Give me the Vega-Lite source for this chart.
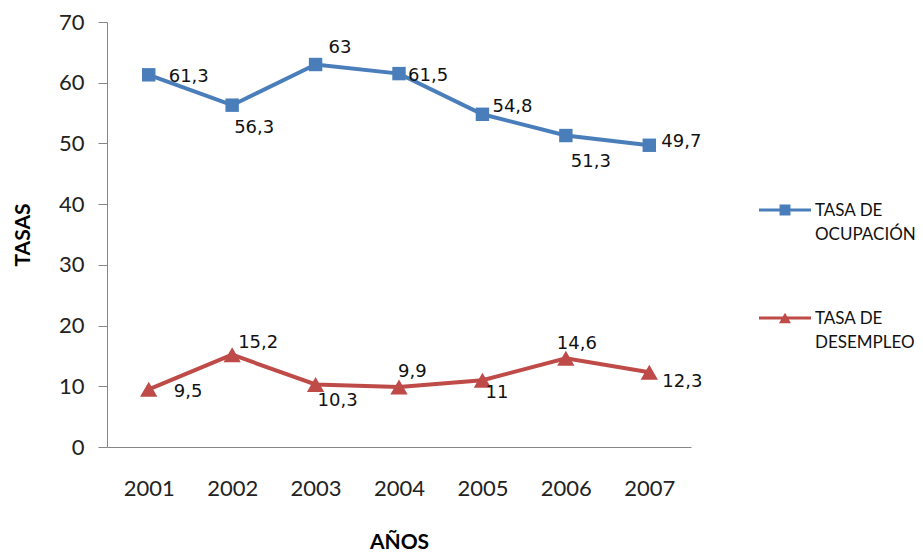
{
  "$schema": "https://vega.github.io/schema/vega-lite/v6.json",
  "width": 584,
  "height": 425,
  "autosize": {"type": "none"},
  "padding": {"left": 107, "top": 22, "right": 232, "bottom": 105},
  "background": "white",
  "config": {
    "view": {"stroke": null},
    "locale": {"number": {"decimal": ",", "thousands": ".", "grouping": [3], "currency": ["", ""]}},
    "font": "Lato"
  },
  "data": {
    "values": [
      {"anio": "2001", "serie": "TASA DE OCUPACIÓN", "valor": 61.3},
      {"anio": "2002", "serie": "TASA DE OCUPACIÓN", "valor": 56.3},
      {"anio": "2003", "serie": "TASA DE OCUPACIÓN", "valor": 63},
      {"anio": "2004", "serie": "TASA DE OCUPACIÓN", "valor": 61.5},
      {"anio": "2005", "serie": "TASA DE OCUPACIÓN", "valor": 54.8},
      {"anio": "2006", "serie": "TASA DE OCUPACIÓN", "valor": 51.3},
      {"anio": "2007", "serie": "TASA DE OCUPACIÓN", "valor": 49.7},
      {"anio": "2001", "serie": "TASA DE DESEMPLEO", "valor": 9.5},
      {"anio": "2002", "serie": "TASA DE DESEMPLEO", "valor": 15.2},
      {"anio": "2003", "serie": "TASA DE DESEMPLEO", "valor": 10.3},
      {"anio": "2004", "serie": "TASA DE DESEMPLEO", "valor": 9.9},
      {"anio": "2005", "serie": "TASA DE DESEMPLEO", "valor": 11},
      {"anio": "2006", "serie": "TASA DE DESEMPLEO", "valor": 14.6},
      {"anio": "2007", "serie": "TASA DE DESEMPLEO", "valor": 12.3}
    ]
  },
  "encoding": {
    "x": {
      "field": "anio", "type": "ordinal",
      "scale": {"type": "point", "padding": 0.5},
      "axis": {
        "title": "AÑOS", "labelAngle": 0, "ticks": false,
        "domainColor": "#868686", "domainWidth": 1,
        "labelFont": "Lato", "labelFontSize": 22, "labelColor": "#222",
        "labelPadding": 31,
        "titleFont": "Lato", "titleFontSize": 21, "titleFontWeight": "bold", "titleColor": "#000",
        "titlePadding": 32
      }
    },
    "y": {
      "field": "valor", "type": "quantitative",
      "scale": {"domain": [0, 70], "nice": false},
      "axis": {
        "title": "TASAS", "values": [0, 10, 20, 30, 40, 50, 60, 70], "grid": false,
        "tickSize": 9, "tickColor": "#868686", "domainColor": "#868686",
        "labelFont": "Lato", "labelFontSize": 22, "labelColor": "#222", "labelPadding": 14,
        "titleFont": "Lato", "titleFontSize": 21, "titleFontWeight": "bold", "titleColor": "#000",
        "titlePadding": 25
      }
    }
  },
  "layer": [
    {
      "mark": {"type": "line", "strokeWidth": 4},
      "encoding": {
        "color": {
          "field": "serie", "type": "nominal",
          "scale": {"domain": ["TASA DE OCUPACIÓN", "TASA DE DESEMPLEO"], "range": ["#4A7EBB", "#BE4B48"]},
          "legend": {
            "orient": "none", "legendX": 652, "legendY": 162, "title": null, "padding": 0,
            "labelFont": "Lato", "labelFontSize": 17, "labelColor": "#111",
            "labelExpr": "datum.label == 'TASA DE OCUPACIÓN' ? ['TASA DE', 'OCUPACIÓN'] : ['TASA DE', 'DESEMPLEO']",
            "labelBaseline": "middle", "labelOffset": 4, "labelLimit": 200,
            "symbolSize": 2704, "symbolStrokeWidth": 0, "rowPadding": 49,
            "encode": {
              "symbols": {"update": {
                "shape": {"signal": "datum.value == 'TASA DE OCUPACIÓN' ? 'M-1,-0.055H1V0.055H-1ZM-0.21,-0.21H0.21V0.21H-0.21Z' : 'M-1,-0.055H1V0.055H-1ZM0,-0.2L0.23,0.2H-0.23Z'"},
                "fill": {"scale": "color", "field": "value"},
                "strokeWidth": {"value": 0},
                "opacity": {"value": 1}
              }},
              "labels": {"update": {"dy": {"value": 1}, "lineHeight": {"value": 24}}}
            }
          }
        }
      }
    },
    {
      "transform": [{"filter": "datum.serie == 'TASA DE OCUPACIÓN'"}],
      "mark": {"type": "point", "filled": true, "opacity": 1, "shape": "square", "size": 180},
      "encoding": {
        "color": {"field": "serie", "type": "nominal", "legend": null}
      }
    },
    {
      "transform": [{"filter": "datum.serie == 'TASA DE DESEMPLEO'"}],
      "mark": {"type": "point", "filled": true, "opacity": 1, "shape": "triangle-up", "size": 300},
      "encoding": {
        "color": {"field": "serie", "type": "nominal", "legend": null}
      }
    },
    {
      "mark": {
        "type": "text", "align": "left", "baseline": "middle",
        "font": "DejaVu Sans", "fontSize": 18, "color": "#111",
        "dx": {"expr": "(datum.serie == 'TASA DE OCUPACIÓN' ? [20,2,13,9,10,5,12] : [25,6,2,-1,3,-9,13])[toNumber(datum.anio) - 2001]"},
        "dy": {"expr": "(datum.serie == 'TASA DE OCUPACIÓN' ? [2,23,-17,2,-7,26,-3] : [3,-12,17,-15,13,-14,10])[toNumber(datum.anio) - 2001]"}
      },
      "encoding": {
        "text": {"field": "valor", "type": "quantitative", "format": ".1~f"}
      }
    }
  ]
}
